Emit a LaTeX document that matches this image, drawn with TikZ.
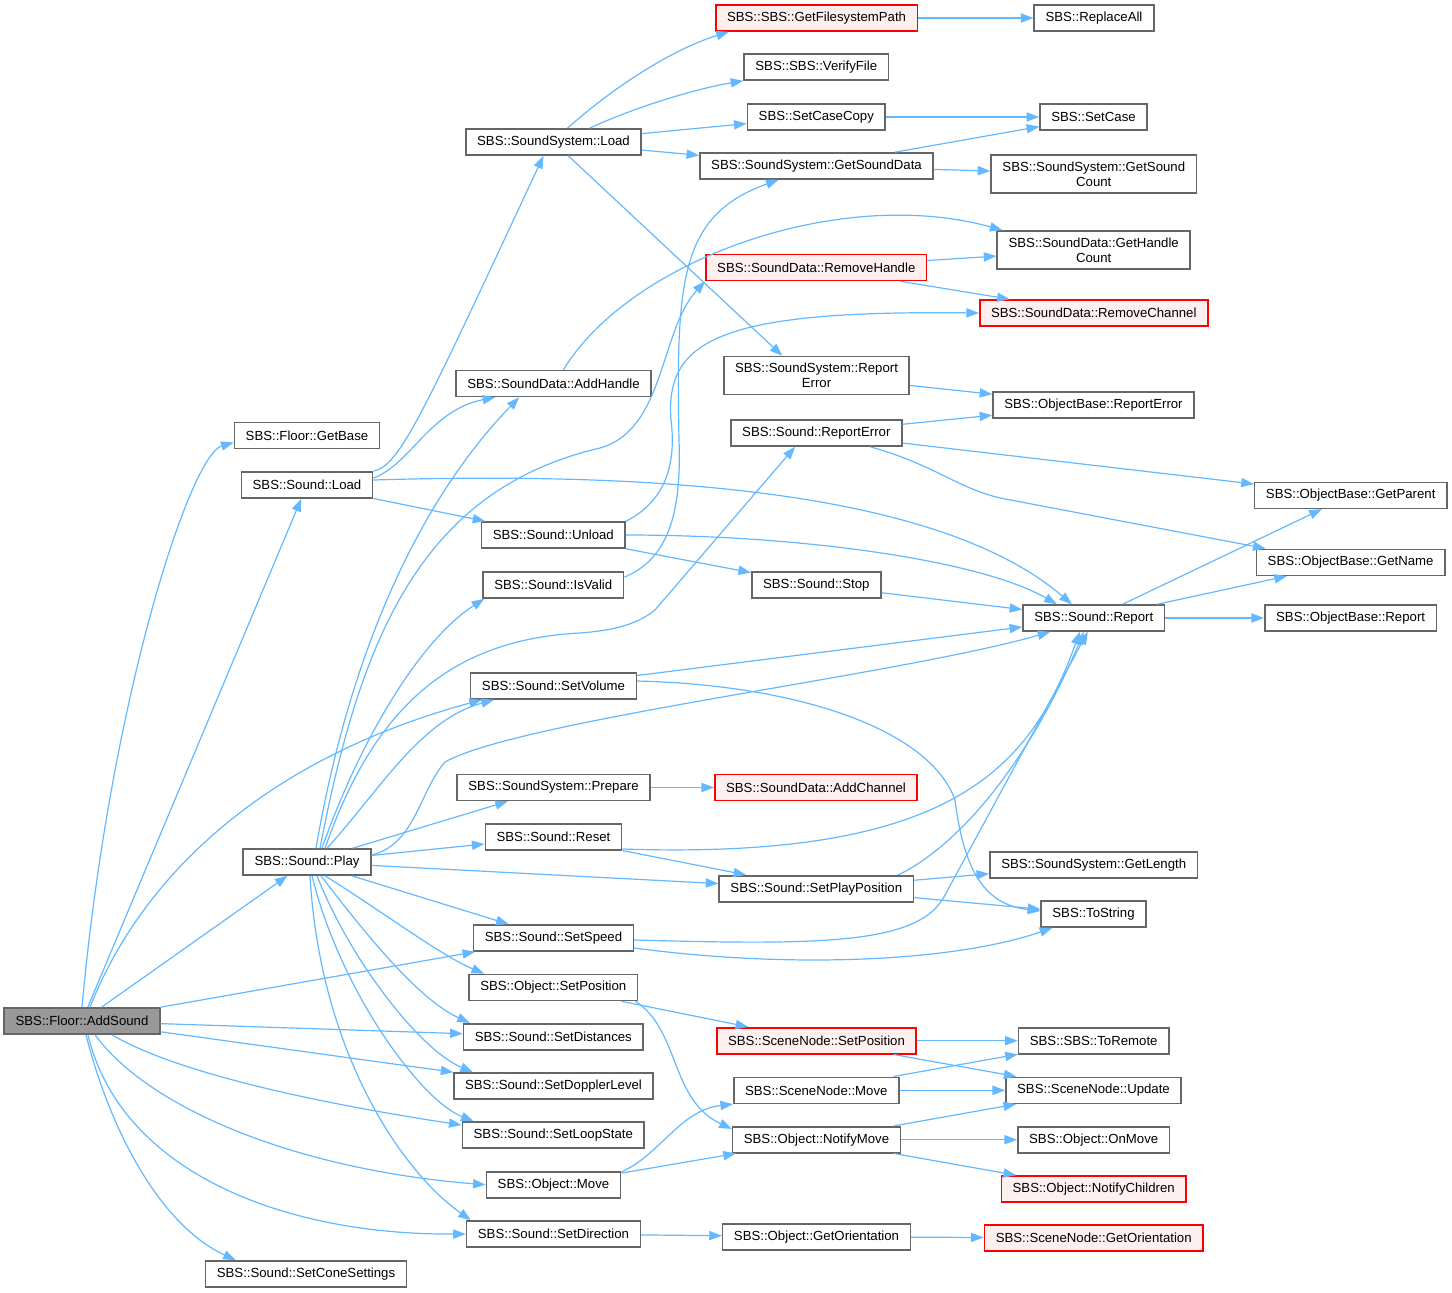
\documentclass[tikz,border=0pt]{standalone}
\usepackage{fontspec}
\setmainfont{Liberation Sans}
\usetikzlibrary{arrows.meta,calc}
\definecolor{edgeblue}{HTML}{63B8FF}
\definecolor{boxgray}{HTML}{666666}
\definecolor{rootgray}{HTML}{999999}
\definecolor{rootpink}{HTML}{FFF0F0}

\begin{document}
\begin{tikzpicture}[x=0.5pt, y=-0.5pt, >={Triangle[length=6.3pt,width=4.6pt]},
	fn/.style={draw=boxgray, fill=white, line width=0.8pt, font=\fontsize{6.6}{7.5}\selectfont, inner xsep=5.65pt, inner ysep=3.3pt, minimum height=13pt, align=center},
	fnred/.style={fn, draw=red, fill=rootpink},
	fnroot/.style={fn, fill=rootgray},
	call/.style={draw=edgeblue, line width=0.6pt, ->}]
			\useasboundingbox (0,0) rectangle (1452,1292);
			
			% Draw the caller and the first rank
			\node[fnroot] (addsound) at (82,1021) {SBS::Floor::AddSound};
			\node[fn] (getbase) at (307,435.5) {SBS::Floor::GetBase};
			\node[fn] (sload) at (307,485) {SBS::Sound::Load};
			\node[fn] (play) at (307,862) {SBS::Sound::Play};
			\node[fn] (coneset) at (306,1274) {SBS::Sound::SetConeSettings};
			
			% Second rank
			\node[fn] (ssload) at (553.5,142) {SBS::SoundSystem::Load};
			\node[fn] (addhandle) at (553.5,383.5) {SBS::SoundData::AddHandle};
			\node[fn] (unload) at (553.3,535) {SBS::Sound::Unload};
			\node[fn] (isvalid) at (553.3,585) {SBS::Sound::IsValid};
			\node[fn] (setvolume) at (553.5,686) {SBS::Sound::SetVolume};
			\node[fn] (prepare) at (553.5,787.5) {SBS::SoundSystem::Prepare};
			\node[fn] (reset) at (553.5,837) {SBS::Sound::Reset};
			\node[fn] (setspeed) at (553.5,938) {SBS::Sound::SetSpeed};
			\node[fn] (osetpos) at (553.3,987.5) {SBS::Object::SetPosition};
			\node[fn] (setdist) at (553.3,1036.7) {SBS::Sound::SetDistances};
			\node[fn] (setdoppler) at (553.5,1086) {SBS::Sound::SetDopplerLevel};
			\node[fn] (setloop) at (553.3,1135) {SBS::Sound::SetLoopState};
			\node[fn] (omove) at (553.5,1184.7) {SBS::Object::Move};
			\node[fn] (setdir) at (553.5,1234) {SBS::Sound::SetDirection};
			
			% Third rank
			\node[fnred] (getfspath) at (816.5,18) {SBS::SBS::GetFilesystemPath};
			\node[fn] (verify) at (816.3,67) {SBS::SBS::VerifyFile};
			\node[fn] (casecopy) at (816.3,117) {SBS::SetCaseCopy};
			\node[fn] (getsdata) at (816.5,166) {SBS::SoundSystem::GetSoundData};
			\node[fnred] (rmhandle) at (816.3,267.5) {SBS::SoundData::RemoveHandle};
			\node[fn] (ssreperr) at (816.5,375.5) {SBS::SoundSystem::Report\\Error};
			\node[fn] (sreperr) at (816.3,433) {SBS::Sound::ReportError};
			\node[fn] (stop) at (816.3,585) {SBS::Sound::Stop};
			\node[fnred] (addchan) at (816,787.5) {SBS::SoundData::AddChannel};
			\node[fn] (setplaypos) at (816.3,888.7) {SBS::Sound::SetPlayPosition};
			\node[fnred] (snsetpos) at (816.5,1040.7) {SBS::SceneNode::SetPosition};
			\node[fn] (snmove) at (816.3,1090.3) {SBS::SceneNode::Move};
			\node[fn] (notifymove) at (816.5,1139.7) {SBS::Object::NotifyMove};
			\node[fn] (ogetorient) at (816.5,1236.7) {SBS::Object::GetOrientation};
			
			% Fourth rank
			\node[fn] (replaceall) at (1094,18) {SBS::ReplaceAll};
			\node[fn] (setcase) at (1093.5,117) {SBS::SetCase};
			\node[fn] (getscount) at (1093.8,174) {SBS::SoundSystem::GetSound\\Count};
			\node[fn] (gethcount) at (1093.7,250) {SBS::SoundData::GetHandle\\Count};
			\node[fnred] (rmchan) at (1093.8,313) {SBS::SoundData::RemoveChannel};
			\node[fn] (obreperr) at (1093.5,405) {SBS::ObjectBase::ReportError};
			\node[fn] (sreport) at (1093.8,618) {SBS::Sound::Report};
			\node[fn] (getlength) at (1093.7,864.7) {SBS::SoundSystem::GetLength};
			\node[fn] (tostring) at (1093.5,914) {SBS::ToString};
			\node[fn] (toremote) at (1093.7,1040.7) {SBS::SBS::ToRemote};
			\node[fn] (update) at (1093.5,1090.3) {SBS::SceneNode::Update};
			\node[fn] (onmove) at (1093.7,1139.7) {SBS::Object::OnMove};
			\node[fnred] (notifych) at (1093.7,1189) {SBS::Object::NotifyChildren};
			\node[fnred] (sngetorient) at (1093.7,1238) {SBS::SceneNode::GetOrientation};
			
			% Fifth rank
			\node[fn] (getparent) at (1350.7,495.3) {SBS::ObjectBase::GetParent};
			\node[fn] (getname) at (1350.6,562.3) {SBS::ObjectBase::GetName};
			\node[fn] (obreport) at (1350.6,618) {SBS::ObjectBase::Report};
			
			% Calls out of AddSound
			\draw[call] (addsound.north) .. controls (110,700) and (190,455) .. ($(getbase.west)+(0,7)$);
			\draw[call] (addsound) -- (sload);
			\draw[call] ($(addsound.north)+(8,0)$) .. controls (140,880) and (260,760) .. ($(setvolume.south west)+(12,0)$);
			\draw[call] (addsound) -- (play);
			\draw[call] (addsound) -- (setspeed);
			\draw[call] (addsound) -- (setdist);
			\draw[call] (addsound) -- (setdoppler);
			\draw[call] ($(addsound.south)+(30,0)$) .. controls (180,1075) and (330,1105) .. ($(setloop.west)+(0,-10)$);
			\draw[call] ($(addsound.south)+(13,0)$) .. controls (150,1110) and (300,1170) .. (omove.west);
			\draw[call] ($(addsound.south)+(6,0)$) .. controls (120,1170) and (280,1235) .. (setdir.west);
			\draw[call] ($(addsound.south)+(4,0)$) .. controls (110,1130) and (160,1225) .. ($(coneset.north west)+(31,0)$);
			
			% Calls out of Load
			\draw[call] (sload.north east) .. controls (400,465) and (420,420) .. ($(ssload.south)+(-10,0)$);
			\draw[call] ($(sload.east)+(0,-7)$) .. controls (410,465) and (430,410) .. ($(addhandle.south west)+(40,0)$);
			\draw[call] (sload) -- (unload);
			\draw[call] ($(sload.east)+(0,-5)$) .. controls (700,470) and (950,500) .. ($(sreport.north)+(-22,0)$);
			\draw[call] ($(ssload.north)+(14,0)$) .. controls (610,90) and (670,50) .. ($(getfspath.south west)+(14,0)$);
			\draw[call] ($(ssload.north)+(36,0)$) .. controls (640,105) and (700,88) .. (verify.south west);
			\draw[call] (ssload) -- (casecopy);
			\draw[call] (ssload) -- (getsdata);
			\draw[call] (ssload) -- (ssreperr.150);
			\draw[call] (getfspath) -- (replaceall);
			\draw[call] (casecopy) -- (setcase);
			\draw[call] (getsdata.10) -- (setcase);
			\draw[call] (getsdata) -- (getscount);
			\draw[call] ($(addhandle.north)+(10,0)$) .. controls (630,260) and (840,185) .. ($(gethcount.north west)+(6,0)$);
			\draw[call] (rmhandle) -- (gethcount);
			\draw[call] (rmhandle) -- (rmchan);
			\draw[call] (unload.north east) .. controls (668,500) and (676,460) .. (671,420) .. controls (665,340) and (720,310) .. (rmchan.west);
			\draw[call] ($(isvalid.north east)+(0,6)$) .. controls (665,560) and (682,520) .. (679,440) .. controls (676,280) and (680,215) .. (getsdata.200);
			
			% Calls out of Play
			\draw[call] ($(play.north)+(13,0)$) .. controls (360,640) and (420,490) .. (600,448) .. controls (665,430) and (660,330) .. (rmhandle.south west);
			\draw[call] ($(play.north)+(9,0)$) .. controls (350,650) and (420,500) .. ($(addhandle.south west)+(64,0)$);
			\draw[call] ($(play.north)+(15,0)$) .. controls (360,740) and (420,640) .. ($(isvalid.south west)+(2,0)$);
			\draw[call] ($(play.north)+(18,0)$) .. controls (370,720) and (440,640) .. (580,633) .. controls (620,630) and (640,622) .. (655,610) -- (sreperr.213);
			\draw[call] ($(play.north)+(20,0)$) .. controls (380,790) and (420,720) .. ($(setvolume.south west)+(24,0)$);
			\draw[call] ($(play.east)+(0,-7)$) .. controls (415,845) and (420,790) .. (445,762) .. controls (520,720) and (900,675) .. ($(sreport.south west)+(28,0)$);
			\draw[call] (play) -- (prepare);
			\draw[call] (play) -- (reset);
			\draw[call] (play) -- (setplaypos);
			\draw[call] (play) -- (setspeed);
			\draw[call] ($(play.south)+(18,0)$) .. controls (380,910) and (440,955) .. ($(osetpos.north west)+(16,0)$);
			\draw[call] ($(play.south)+(14,0)$) .. controls (370,940) and (420,1000) .. ($(setdist.north west)+(7,0)$);
			\draw[call] ($(play.south)+(10,0)$) .. controls (350,960) and (420,1050) .. ($(setdoppler.north west)+(20,0)$);
			\draw[call] ($(play.south)+(5,0)$) .. controls (340,990) and (420,1100) .. ($(setloop.north west)+(12,0)$);
			\draw[call] ($(play.south)+(3,0)$) .. controls (320,1050) and (400,1170) .. ($(setdir.north west)+(5,0)$);
			
			% Second rank onwards
			\draw[call] (prepare) -- (addchan);
			\draw[call] (setvolume) -- (sreport);
			\draw[call] ($(setvolume.east)+(0,-5)$) .. controls (800,685) and (930,730) .. (955,800) .. controls (965,880) and (990,905) .. ($(tostring.west)+(0,-3)$);
			\draw[call] ($(reset.east)+(0,12)$) .. controls (950,860) and (1030,770) .. ($(sreport.south)+(-14,0)$);
			\draw[call] (reset) -- (setplaypos);
			\draw[call] ($(setplaypos.north east)+(-16,0)$) .. controls (960,845) and (1030,760) .. ($(sreport.south)+(-10,0)$);
			\draw[call] (setplaypos) -- (getlength);
			\draw[call] (setplaypos) -- (tostring);
			\draw[call] ($(setspeed.east)+(0,2)$) .. controls (820,945) and (920,945) .. (945,895) -- ($(sreport.south)+(-6,0)$);
			\draw[call] ($(setspeed.east)+(0,10)$) .. controls (800,970) and (960,960) .. ($(tostring.south west)+(12,0)$);
			\draw[call] (osetpos) -- (snsetpos);
			\draw[call] ($(osetpos.south east)+(-3,0)$) .. controls (680,1030) and (670,1100) .. ($(notifymove.north west)+(0,3)$);
			\draw[call] (snsetpos) -- (toremote);
			\draw[call] (snsetpos) -- (update);
			\draw[call] (snmove) -- (toremote);
			\draw[call] (snmove) -- (update);
			\draw[call] (notifymove) -- (update);
			\draw[call] (notifymove) -- (onmove);
			\draw[call] (notifymove) -- (notifych);
			\draw[call] ($(omove.north east)+(0,1)$) .. controls (660,1155) and (680,1110) .. (snmove.south west);
			\draw[call] (omove) -- (notifymove);
			\draw[call] (setdir) -- (ogetorient);
			\draw[call] (ogetorient) -- (sngetorient);
			
			% Reporting
			\draw[call] (ssreperr) -- (obreperr);
			\draw[call] (sreperr) -- (obreperr);
			\draw[call] (sreperr) -- (getparent);
			\draw[call] ($(sreperr.south)+(54,0)$) .. controls (935,465) and (955,487) .. (1000,498) -- ($(getname.north west)+(10,0)$);
			\draw[call] (unload) -- (stop);
			\draw[call] (unload.east) .. controls (800,535) and (980,560) .. ($(sreport.north)+(-37,0)$);
			\draw[call] (stop) -- (sreport);
			\draw[call] (sreport) -- (getparent);
			\draw[call] (sreport) -- (getname);
			\draw[call] (sreport) -- (obreport);
			\end{tikzpicture}
\end{document}
